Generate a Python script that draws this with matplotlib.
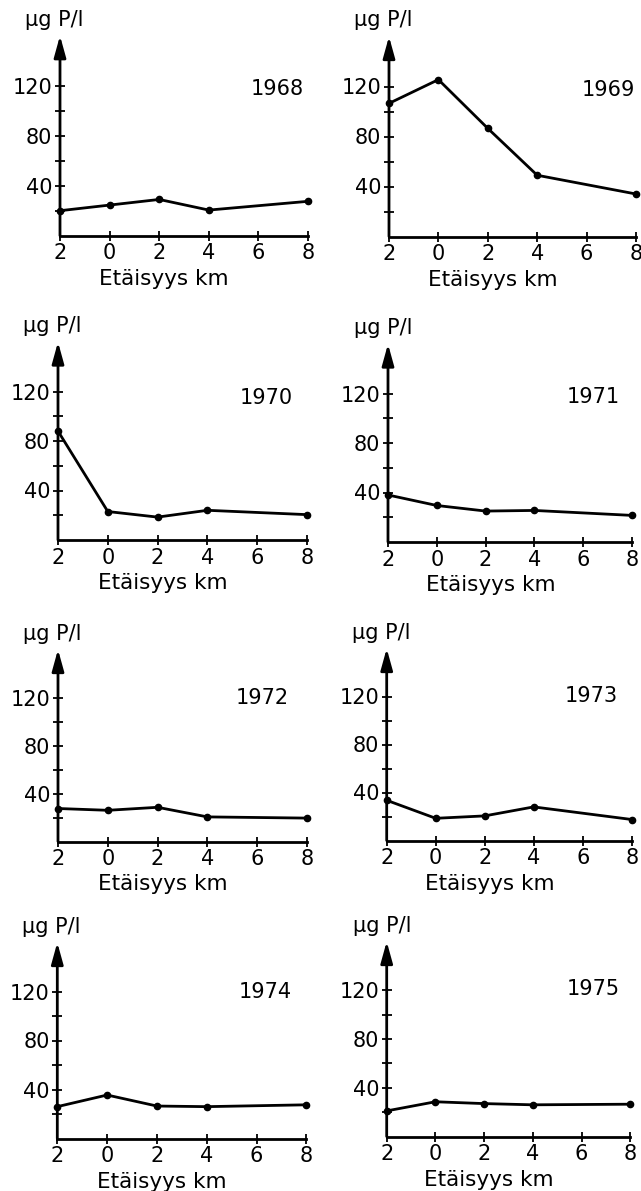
import numpy as np
import matplotlib
matplotlib.use("Agg")
import matplotlib.pyplot as plt

# distance along the shore (km); first point is -2 but printed without sign
distance = [-2, 0, 2, 4, 8]
tick_pos = [-2, 0, 2, 4, 6, 8]
tick_labels = ["2", "0", "2", "4", "6", "8"]

years = ["1968", "1969", "1970", "1971", "1972", "1973", "1974", "1975"]
p1968 = [20, 24.5, 29, 20.5, 27.5]
p1969 = [106.5, 125.5, 86.5, 49, 34]
p1970 = [88, 23, 18.5, 24, 20.5]
p1971 = [38, 29.5, 25, 25.5, 21.5]
p1972 = [27.5, 26, 28.5, 20.5, 19.5]
p1973 = [33.5, 18.5, 20.5, 28, 17.5]
p1974 = [26, 35.5, 26.5, 26, 27.5]
p1975 = [21, 28.5, 27, 26, 26.5]
series = [p1968, p1969, p1970, p1971, p1972, p1973, p1974, p1975]

# panel layout in pixels: left of y-axis, y of x-axis, width, height (0..160)
W, H = 641, 1191
layout = [
    (60, 235.7, 248, 200),
    (389, 236.5, 247, 200),
    (58, 540, 249, 198),
    (388, 542, 244, 198),
    (58, 841.5, 249, 192),
    (386.7, 840.5, 245, 192),
    (57.3, 1138.5, 249, 196),
    (386.7, 1136.5, 243.5, 195),
]
year_pos = [(6.75, 117), (6.9, 117), (6.35, 115), (6.4, 117),
            (6.2, 120), (6.35, 120), (6.35, 120), (6.5, 121)]

fig = plt.figure(figsize=(W / 100, H / 100), dpi=100)

for vals, yr, (l, axy, w, h), (yx, yy) in zip(series, years, layout, year_pos):
    ax = fig.add_axes([l / W, (H - axy) / H, w / W, h / H])
    ax.set_xlim(-2, 8)
    ax.set_ylim(0, 160)
    ax.patch.set_visible(False)
    for s in ["top", "right", "left"]:
        ax.spines[s].set_visible(False)
    ax.spines["bottom"].set_linewidth(2.0)

    # y axis drawn as an arrow
    ax.annotate("", xy=(0, 1), xycoords="axes fraction", xytext=(0, 0),
                arrowprops=dict(arrowstyle="-|>,head_length=0.65,head_width=0.18",
                                lw=2.0, color="black", shrinkA=0, shrinkB=0,
                                mutation_scale=20))

    ax.plot(distance, vals, color="black", lw=2.0, marker="o", ms=4.5,
            clip_on=False, zorder=3)

    ax.set_xticks(tick_pos)
    ax.set_xticklabels(tick_labels)
    ax.set_yticks([20, 40, 60, 80, 100, 120])
    ax.set_yticklabels(["", "40", "", "80", "", "120"])
    ax.tick_params(direction="inout", length=7, width=1.3, labelsize=15,
                   pad=2, colors="black")

    ax.text(yx, yy, yr, fontsize=15, ha="center", va="center")
    ax.text(-0.14, 1.08, "µg P/l", transform=ax.transAxes, fontsize=15,
            ha="left", va="center")
    ax.text(0.42, -43 / h, "Etäisyys km", transform=ax.transAxes,
            fontsize=15.5, ha="center", va="center")

fig.savefig("out.png", dpi=100)
